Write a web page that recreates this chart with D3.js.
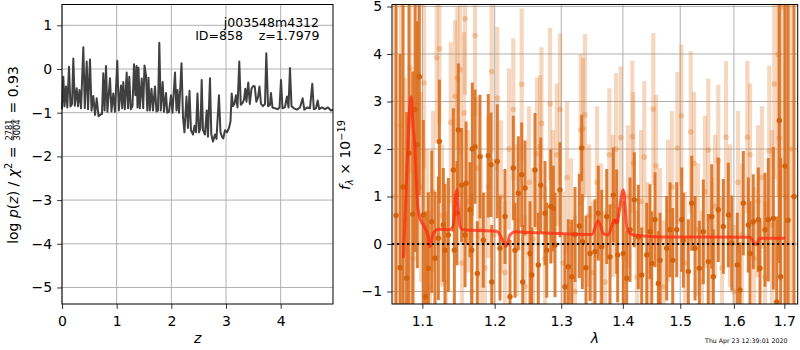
<!DOCTYPE html>
<html>
<head>
<meta charset="utf-8">
<script src="https://cdn.jsdelivr.net/npm/d3@7"></script>
<style>
  body { margin: 0; background: #fff; }
  svg { font-family: "DejaVu Sans", sans-serif; }
  text { white-space: pre; }
</style>
</head>
<body>
<svg id="fig" width="800" height="350"></svg>
<script>
// ---- data ----
const zTicks = [0, 1, 2, 3, 4];
const pTicks = [-5, -4, -3, -2, -1, 0, 1];
const lamTicks = [1.1, 1.2, 1.3, 1.4, 1.5, 1.6, 1.7];
const fTicks = [-1, 0, 1, 2, 3, 4, 5];

const objName = 'j003548m4312';
const objInfo = 'ID=858    z=1.7979';
const stamp = 'Thu Apr 23 12:39:01 2020';

// redshift grid and log p(z)  [z, log p]
const logPz = [
  [0.000,-0.92],[0.024,-0.18],[0.046,-0.85],[0.073,-0.40],[0.097,-0.88],[0.128,0.05],[0.155,-0.86],
  [0.183,-0.80],[0.207,0.24],[0.234,-0.84],[0.269,-0.44],[0.293,-0.85],[0.320,-0.48],[0.348,-0.90],
  [0.390,0.50],[0.417,-0.90],[0.452,0.17],[0.476,-0.92],[0.512,0.22],[0.540,-0.95],[0.572,-0.62],
  [0.604,-1.05],[0.635,-0.67],[0.668,-1.08],[0.704,-1.04],[0.732,-1.03],[0.755,-0.10],[0.779,-0.95],
  [0.805,0.07],[0.830,-0.98],[0.878,-0.21],[0.905,-0.97],[0.938,-0.56],[0.969,-0.98],[1.011,0.19],
  [1.039,-0.95],[1.079,-0.38],[1.101,-0.90],[1.121,-0.30],[1.149,-0.92],[1.183,-0.08],[1.207,-0.90],
  [1.231,-0.18],[1.257,-0.92],[1.289,-0.85],[1.317,0.11],[1.341,-0.60],[1.363,0.07],[1.381,-0.88],
  [1.399,0.03],[1.423,-0.90],[1.458,-0.22],[1.485,-0.90],[1.509,0.08],[1.536,-0.14],[1.560,-0.95],
  [1.582,-0.20],[1.606,-0.95],[1.637,-0.45],[1.664,-0.95],[1.701,-0.40],[1.728,-0.97],[1.756,-0.95],
  [1.780,0.60],[1.807,-0.95],[1.842,-0.30],[1.866,-0.98],[1.902,-0.55],[1.926,-1.00],[1.957,-0.98],
  [1.994,-0.60],[2.021,-1.00],[2.067,-0.08],[2.094,-0.95],[2.113,-0.48],[2.140,-1.00],[2.186,0.13],
  [2.213,-1.10],[2.240,-1.45],[2.277,-0.63],[2.304,-1.35],[2.332,-0.50],[2.359,-1.40],[2.396,-1.50],
  [2.423,-1.30],[2.451,-1.45],[2.478,-0.56],[2.506,-1.45],[2.533,-1.35],[2.555,-0.25],[2.579,-1.40],
  [2.615,-1.50],[2.647,-0.95],[2.670,-1.55],[2.707,-0.21],[2.731,-1.50],[2.762,-1.66],[2.798,-1.50],
  [2.826,-1.60],[2.871,-0.60],[2.899,-1.45],[2.926,-1.55],[2.950,-1.59],[2.981,-1.40],[3.018,-1.45],
  [3.054,-1.35],[3.082,-1.20],[3.104,-0.56],[3.127,-0.85],[3.155,-0.80],[3.182,-0.60],[3.210,-0.88],
  [3.243,0.17],[3.270,-0.82],[3.301,-0.78],[3.329,-0.70],[3.353,-0.45],[3.374,-0.75],[3.407,-0.31],
  [3.435,-0.80],[3.466,-0.45],[3.499,-0.39],[3.526,-0.40],[3.554,-0.75],[3.585,-0.65],[3.612,-0.40],
  [3.640,-0.80],[3.676,-0.85],[3.713,-0.80],[3.737,0.36],[3.769,-0.85],[3.804,-0.82],[3.822,-0.55],
  [3.850,-0.88],[3.896,-0.90],[3.951,-0.92],[3.979,-0.88],[4.006,-0.25],[4.033,-0.90],[4.079,-0.87],
  [4.115,-0.63],[4.143,-0.88],[4.170,0.02],[4.198,-0.85],[4.243,-0.90],[4.298,-0.93],[4.353,-0.88],
  [4.402,-0.67],[4.432,-0.93],[4.481,-0.88],[4.536,-0.90],[4.578,-0.34],[4.606,-0.92],[4.646,-0.90],
  [4.677,-0.72],[4.704,-0.92],[4.755,-0.88],[4.810,-0.92],[4.865,-0.88],[4.920,-0.95],[4.957,-0.93]
];

// combined spectrum  [lambda, flux, error]
const specMain = [
  [1.0658,0.60,6.0],[1.0709,-0.50,4.5],[1.0748,1.20,5.0],[1.0795,-0.72,3.5],[1.0825,1.91,4.0],
  [1.0874,0.63,3.0],[1.0904,2.83,3.0],[1.0934,2.09,2.6],[1.0961,3.52,2.5],[1.1013,0.61,2.0],
  [1.1045,-1.11,1.8],[1.1080,-0.51,1.6],[1.1125,0.47,1.5],[1.1169,-0.30,1.4],[1.1214,0.12,1.3],
  [1.1228,2.16,1.3],[1.1281,0.40,1.2],[1.1304,-0.13,1.4],[1.1350,0.19,1.2],[1.1418,1.56,1.3],
  [1.1432,-0.13,1.2],[1.1468,0.65,1.1],[1.1487,2.40,1.4],[1.1533,1.24,1.2],[1.1580,0.19,1.1],
  [1.1594,1.28,1.3],[1.1649,0.72,1.0],[1.1673,-0.13,1.2],[1.1682,2.00,1.4],[1.1720,2.05,1.2],
  [1.1752,-0.62,1.1],[1.1790,1.84,1.3],[1.1837,0.08,1.0],[1.1908,1.86,1.3],[1.1947,1.67,1.1],
  [1.1957,-0.80,1.2],[1.2038,1.74,1.2],[1.2077,-0.09,1.1],[1.2150,0.58,1.0],[1.2223,-1.11,1.2],
  [1.2272,1.60,1.1],[1.2297,-0.13,1.0],[1.2346,1.07,1.2],[1.2396,1.46,1.1],[1.2411,-0.80,1.2],
  [1.2446,1.18,1.0],[1.2521,-0.20,1.1],[1.2547,-0.65,1.0],[1.2596,1.56,1.2],[1.2646,-0.44,1.1],
  [1.2683,1.24,1.0],[1.2749,0.65,1.1],[1.2775,-0.13,1.0],[1.2837,0.79,1.2],[1.2877,0.75,0.9],
  [1.2903,-0.02,1.1],[1.2981,1.14,1.0],[1.3059,-0.90,1.1],[1.3111,-0.48,1.0],[1.3165,-0.69,1.2],
  [1.3217,0.20,1.0],[1.3286,0.38,1.1],[1.3324,2.02,0.7],[1.3335,0.05,1.0],[1.3393,-0.50,1.1],
  [1.3458,-0.20,1.0],[1.3539,-0.16,1.1],[1.3592,0.65,1.0],[1.3648,-0.06,1.2],[1.3731,0.58,1.0],
  [1.3785,-0.27,1.1],[1.3840,1.03,1.0],[1.3896,0.47,1.1],[1.3913,-0.23,1.0],[1.4007,-0.20,1.1],
  [1.4064,-0.72,1.0],[1.4121,0.30,1.1],[1.4194,0.93,1.0],[1.4263,0.15,1.1],[1.4321,-0.65,1.0],
  [1.4408,-0.23,1.1],[1.4465,0.26,1.0],[1.4495,-0.41,1.1],[1.4552,0.51,1.0],[1.4610,-0.83,1.1],
  [1.4640,-0.34,1.0],[1.4758,-0.09,1.1],[1.4817,0.30,1.0],[1.4865,-0.34,1.1],[1.4937,0.30,1.0],
  [1.5027,0.51,1.1],[1.5056,0.08,1.0],[1.5147,-0.58,1.1],[1.5209,0.86,1.0],[1.5269,-0.09,1.1],
  [1.5348,-0.51,1.0],[1.5422,0.26,1.1],[1.5515,-0.37,1.0],[1.5579,0.58,1.1],[1.5609,-0.69,1.0],
  [1.5703,0.72,1.1],[1.5798,0.37,1.0],[1.5893,0.61,1.1],[1.5959,0.02,1.0],[1.6066,-0.44,1.1],
  [1.6118,-0.97,1.0],[1.6182,0.86,1.1],[1.6280,0.40,1.0],[1.6313,-0.20,1.1],[1.6378,0.47,1.0],
  [1.6477,0.51,1.1],[1.6510,-0.51,1.0],[1.6610,0.30,1.2],[1.6676,0.51,1.3],[1.6777,0.54,1.5],
  [1.6845,-1.22,1.8],[1.6898,2.60,3.0],[1.6926,-0.69,2.5],[1.7014,1.64,5.0],[1.7076,0.50,6.0],
  [1.7199,1.00,8.0]
];

// individual beam spectrum  [lambda, flux, error]
const specBeam = [
  [1.0645,1.00,5.0],[1.0722,2.50,4.0],[1.0773,0.50,3.0],[1.0838,3.70,2.2],[1.0878,-0.30,2.5],
  [1.0934,3.53,2.0],[1.0983,1.20,2.0],[1.1023,3.39,1.8],[1.1062,0.20,1.8],[1.1102,-0.90,1.6],
  [1.1142,1.10,1.7],[1.1192,3.92,1.8],[1.1228,4.11,1.6],[1.1264,0.60,1.5],[1.1318,-0.80,1.5],
  [1.1383,2.56,1.7],[1.1441,3.11,1.6],[1.1473,3.49,1.5],[1.1510,3.67,1.8],[1.1538,-0.40,1.5],
  [1.1566,2.76,1.7],[1.1580,4.74,1.6],[1.1621,0.90,1.5],[1.1677,-1.00,1.6],[1.1720,4.39,1.7],
  [1.1762,1.60,1.5],[1.1804,0.30,1.6],[1.1861,-0.50,1.6],[1.1908,1.20,1.5],[1.1957,3.63,1.7],
  [1.1990,0.20,1.6],[1.2038,3.07,1.5],[1.2092,1.00,1.6],[1.2150,-0.60,1.5],[1.2208,2.00,1.7],
  [1.2272,2.83,1.5],[1.2327,0.50,1.6],[1.2396,3.36,1.6],[1.2446,-0.90,1.5],[1.2506,1.30,1.6],
  [1.2566,0.10,1.5],[1.2626,1.90,1.6],[1.2672,2.05,1.5],[1.2695,2.54,1.6],[1.2749,-0.30,1.5],
  [1.2826,2.95,1.6],[1.2872,1.00,1.4],[1.2929,1.88,1.5],[1.2981,2.83,1.6],[1.3028,-0.40,1.5],
  [1.3090,1.40,1.6],[1.3154,0.30,1.5],[1.3217,-1.00,1.6],[1.3308,2.40,1.6],[1.3345,2.42,1.5],
  [1.3377,2.72,1.7],[1.3442,0.60,1.5],[1.3507,-0.60,1.5],[1.3571,1.30,1.6],[1.3637,0.20,1.5],
  [1.3703,-0.80,1.5],[1.3774,1.88,1.4],[1.3835,0.80,1.5],[1.3885,2.00,1.6],[1.3964,2.24,1.5],
  [1.4019,-0.30,1.4],[1.4087,1.00,1.5],[1.4160,2.26,1.6],[1.4177,1.70,1.5],[1.4241,-0.70,1.4],
  [1.4309,0.90,1.5],[1.4366,1.83,1.6],[1.4430,-0.20,1.5],[1.4522,2.84,1.6],[1.4569,1.64,1.5],
  [1.4640,0.10,1.5],[1.4710,-0.90,1.4],[1.4781,0.70,1.5],[1.4853,1.20,1.6],[1.4948,2.02,1.6],
  [1.5020,2.70,1.5],[1.5087,-0.40,1.5],[1.5191,2.36,1.7],[1.5251,1.70,1.5],[1.5324,0.30,1.4],
  [1.5398,-0.80,1.5],[1.5454,1.10,1.6],[1.5515,1.98,1.5],[1.5585,0.00,1.4],[1.5641,0.80,1.5],
  [1.5703,1.75,1.6],[1.5773,-0.50,1.5],[1.5849,2.25,1.6],[1.5926,0.60,1.5],[1.6003,-1.00,1.4],
  [1.6079,1.30,1.5],[1.6157,0.20,1.5],[1.6261,2.25,1.6],[1.6313,1.88,1.5],[1.6392,-0.30,1.5],
  [1.6471,0.90,1.6],[1.6550,1.40,1.5],[1.6610,-0.70,1.6],[1.6696,1.96,1.8],[1.6750,0.40,2.0],
  [1.6797,3.37,2.0],[1.6878,3.99,3.0],[1.6898,2.23,3.0],[1.6953,4.99,4.0],[1.7035,1.00,5.0],
  [1.7138,2.00,6.0]
];

// best-fit template  [lambda, flux]
const model = [
  [1.0752,-0.30],[1.0795,1.45],[1.0852,3.10],[1.0878,2.47],[1.0904,1.98],[1.0917,1.45],
  [1.0934,0.93],[1.0961,0.58],[1.1013,0.40],[1.1080,0.15],[1.1102,-0.06],[1.1147,0.23],
  [1.1214,0.31],[1.1373,0.30],[1.1418,0.40],[1.1465,1.14],[1.1510,0.37],[1.1556,0.30],
  [1.2030,0.27],[1.2102,0.12],[1.2165,-0.05],[1.2223,0.19],[1.2297,0.26],[1.2521,0.24],
  [1.2981,0.22],[1.3485,0.20],[1.3593,0.49],[1.3675,0.22],[1.3757,0.19],[1.3857,0.51],
  [1.3896,0.45],[1.4008,1.14],[1.4075,0.30],[1.4177,0.19],[1.4640,0.15],[1.6313,0.14],
  [1.6431,-0.01],[1.6510,0.12],[1.7014,0.12]
];

// ---- drawing ----
const svg = d3.select('#fig');
const FONT = '"DejaVu Sans", sans-serif';
const gridColor = '#b0b0b0';

function styleAxis(g) {
  g.attr('font-size', 14).attr('font-family', FONT);
  g.select('.domain').remove();
  g.selectAll('.tick line').attr('stroke', '#000').attr('stroke-width', 0.8);
  g.selectAll('.tick text').attr('fill', '#000');
}

// left panel: redshift PDF
const L = { x0: 62, x1: 333, y0: 4.5, y1: 304 };
const xz = d3.scaleLinear().domain([0, 4.957]).range([L.x0, L.x1]);
const yp = d3.scaleLinear().domain([-5.378, 1.476]).range([L.y1, L.y0]);

const left = svg.append('g');
left.selectAll('.gx').data(zTicks).enter().append('line')
  .attr('x1', d => xz(d)).attr('x2', d => xz(d)).attr('y1', L.y0).attr('y2', L.y1)
  .attr('stroke', gridColor).attr('stroke-width', 1);
left.selectAll('.gy').data(pTicks).enter().append('line')
  .attr('x1', L.x0).attr('x2', L.x1).attr('y1', d => yp(d)).attr('y2', d => yp(d))
  .attr('stroke', gridColor).attr('stroke-width', 1);

left.append('path')
  .datum(logPz)
  .attr('fill', 'none')
  .attr('stroke', '#404040')
  .attr('stroke-width', 2)
  .attr('stroke-linejoin', 'round')
  .attr('d', d3.line().x(d => xz(d[0])).y(d => yp(d[1])));

left.append('g').attr('transform', `translate(0,${L.y1})`)
  .call(d3.axisBottom(xz).tickValues(zTicks).tickSize(4.9).tickPadding(6.7).tickFormat(d3.format('d')))
  .call(styleAxis);
left.append('g').attr('transform', `translate(${L.x0},0)`)
  .call(d3.axisLeft(yp).tickValues(pTicks).tickSize(4.9).tickPadding(4.9).tickFormat(d3.format('d')))
  .call(styleAxis);

left.append('rect')
  .attr('x', L.x0).attr('y', L.y0).attr('width', L.x1 - L.x0).attr('height', L.y1 - L.y0)
  .attr('fill', 'none').attr('stroke', '#000').attr('stroke-width', 1);

left.append('text').attr('x', 319).attr('y', 26.5).attr('text-anchor', 'end')
  .attr('font-size', 12.5).text(objName);
left.append('text').attr('x', 319.5).attr('y', 40).attr('text-anchor', 'end')
  .attr('font-size', 12.5).text(objInfo);

left.append('text').attr('x', xz(2.48)).attr('y', 343).attr('text-anchor', 'middle')
  .attr('font-size', 14).attr('font-style', 'italic').text('z');

function rotLabel(bx, cy, build) {
  const g = svg.append('g').attr('transform', `translate(${bx},${cy}) rotate(-90)`);
  const inner = g.append('g');
  build(inner);
  const w = inner.node().getBBox().width;
  inner.attr('transform', `translate(${-w / 2},0)`);
}

rotLabel(17.5, 155, g => {
  const t = g.append('text').attr('font-size', 14);
  t.append('tspan').text('log ');
  t.append('tspan').attr('font-style', 'italic').text('p');
  t.append('tspan').text('(');
  t.append('tspan').attr('font-style', 'italic').text('z');
  t.append('tspan').text(') / ');
  t.append('tspan').attr('font-style', 'italic').text('χ');
  t.append('tspan').attr('font-size', 9.8).attr('dy', -5.5).text('2');
  t.append('tspan').attr('dy', 5.5).text(' = ');
  const w1 = t.node().getComputedTextLength();
  const fx = w1 + 1.5;
  const num = g.append('text').attr('font-size', 8.3).attr('x', fx).attr('y', -5.8).text('2781');
  const den = g.append('text').attr('font-size', 8.3).attr('x', fx).attr('y', 2.6).text('3004');
  const fw = Math.max(num.node().getComputedTextLength(), den.node().getComputedTextLength());
  g.append('line').attr('x1', fx).attr('x2', fx + fw).attr('y1', -4.5).attr('y2', -4.5)
    .attr('stroke', '#000').attr('stroke-width', 0.7);
  g.append('text').attr('font-size', 14).attr('x', fx + fw + 1.5).text(' = 0.93');
});

// right panel: spectrum
const R = { x0: 392, x1: 797.7, y0: 4.5, y1: 304 };
const xl = d3.scaleLog().domain([1.0606, 1.7276]).range([R.x0, R.x1]);
const yf = d3.scaleLinear().domain([-1.263, 5.042]).range([R.y1, R.y0]);

svg.append('clipPath').attr('id', 'clipR').append('rect')
  .attr('x', R.x0).attr('y', R.y0).attr('width', R.x1 - R.x0).attr('height', R.y1 - R.y0);

const right = svg.append('g');
right.selectAll('.gx').data(lamTicks).enter().append('line')
  .attr('x1', d => xl(d)).attr('x2', d => xl(d)).attr('y1', R.y0).attr('y2', R.y1)
  .attr('stroke', gridColor).attr('stroke-width', 1);
right.selectAll('.gy').data(fTicks).enter().append('line')
  .attr('x1', R.x0).attr('x2', R.x1).attr('y1', d => yf(d)).attr('y2', d => yf(d))
  .attr('stroke', gridColor).attr('stroke-width', 1);

const plot = right.append('g').attr('clip-path', 'url(#clipR)');

// pale beam spectrum
plot.append('g').selectAll('line').data(specBeam).enter().append('line')
  .attr('x1', d => xl(d[0])).attr('x2', d => xl(d[0]))
  .attr('y1', d => yf(d[1] - d[2])).attr('y2', d => yf(d[1] + d[2]))
  .attr('stroke', '#e07b2a').attr('stroke-opacity', 0.3).attr('stroke-width', 4.2);
plot.append('g').selectAll('circle').data(specBeam).enter().append('circle')
  .attr('cx', d => xl(d[0])).attr('cy', d => yf(d[1])).attr('r', 2.8)
  .attr('fill', '#e07b2a').attr('fill-opacity', 0.35);

// combined spectrum
plot.append('g').selectAll('line').data(specMain).enter().append('line')
  .attr('x1', d => xl(d[0])).attr('x2', d => xl(d[0]))
  .attr('y1', d => yf(d[1] - d[2])).attr('y2', d => yf(d[1] + d[2]))
  .attr('stroke', '#dc7020').attr('stroke-opacity', 0.9).attr('stroke-width', 3);
plot.append('g').selectAll('circle').data(specMain).enter().append('circle')
  .attr('cx', d => xl(d[0])).attr('cy', d => yf(d[1])).attr('r', 2.7)
  .attr('fill', '#d4620c');

// model
plot.append('path')
  .datum(model)
  .attr('fill', 'none')
  .attr('stroke', '#ff2a10')
  .attr('stroke-opacity', 0.75)
  .attr('stroke-width', 3)
  .attr('stroke-linejoin', 'round')
  .attr('d', d3.line().x(d => xl(d[0])).y(d => yf(d[1])).curve(d3.curveMonotoneX));

// zero line
plot.append('line')
  .attr('x1', R.x0).attr('x2', R.x1).attr('y1', yf(0)).attr('y2', yf(0))
  .attr('stroke', '#000').attr('stroke-width', 1.8).attr('stroke-dasharray', '2.2,2.8');

right.append('g').attr('transform', `translate(0,${R.y1})`)
  .call(d3.axisBottom(xl).tickValues(lamTicks).tickSize(4.9).tickPadding(6.7).tickFormat(d3.format('.1f')))
  .call(styleAxis);
right.append('g').attr('transform', `translate(${R.x0},0)`)
  .call(d3.axisLeft(yf).tickValues(fTicks).tickSize(4.9).tickPadding(4.9).tickFormat(d3.format('d')))
  .call(styleAxis);

right.append('rect')
  .attr('x', R.x0).attr('y', R.y0).attr('width', R.x1 - R.x0).attr('height', R.y1 - R.y0)
  .attr('fill', 'none').attr('stroke', '#000').attr('stroke-width', 1);

right.append('text').attr('x', 595).attr('y', 343).attr('text-anchor', 'middle')
  .attr('font-size', 14).attr('font-style', 'italic').text('λ');

rotLabel(350, 155, g => {
  const t = g.append('text').attr('font-size', 14);
  t.append('tspan').attr('font-style', 'italic').text('f');
  t.append('tspan').attr('font-style', 'italic').attr('font-size', 9.8).attr('dy', 3).text('λ');
  t.append('tspan').attr('dy', -3).text(' × 10');
  t.append('tspan').attr('font-size', 9.8).attr('dy', -5.5).text('−19');
});

svg.append('text').attr('x', 787.5).attr('y', 343).attr('text-anchor', 'end')
  .attr('font-size', 6.25).text(stamp);
</script>
</body>
</html>
